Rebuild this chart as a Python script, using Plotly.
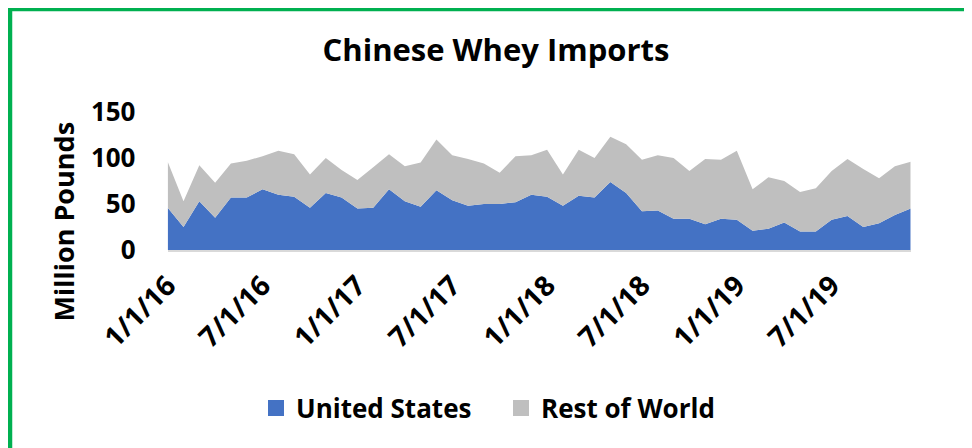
import plotly.graph_objects as go

# ---- data ----
months = [f"{m}/1/{y}" for y in (16, 17, 18, 19) for m in range(1, 13)]
united_states = [46, 25, 53, 35, 57, 57, 66, 60, 58, 46, 62, 57,
                 45, 46, 66, 53, 47, 65, 54, 48, 50, 50, 52, 60,
                 58, 48, 59, 57, 74, 62, 42, 43, 34, 34, 28, 34,
                 33, 21, 23, 30, 20, 20, 33, 37, 25, 29, 38, 45]
rest_of_world = [50, 28, 39, 38, 37, 40, 36, 48, 46, 36, 38, 30,
                 31, 44, 38, 38, 48, 55, 49, 51, 44, 34, 50, 43,
                 51, 34, 50, 43, 49, 53, 56, 60, 66, 52, 71, 64,
                 75, 45, 56, 45, 43, 47, 53, 62, 63, 49, 53, 51]
tick_labels = ["1/1/16", "7/1/16", "1/1/17", "7/1/17",
               "1/1/18", "7/1/18", "1/1/19", "7/1/19"]
y_ticks = [0, 50, 100, 150]

W, H = 972, 448
OFF = 8  # page body margin
FONT = "Open Sans"
US_COLOR = "#4472C4"
ROW_COLOR = "#BFBFBF"


def px(x):
    return (x - OFF) / W


def py(y):
    return 1 - (y - OFF) / H


fig = go.Figure()
fig.add_trace(go.Scatter(x=months, y=united_states, stackgroup="one",
                         mode="none", fillcolor=US_COLOR,
                         name="United States", showlegend=False))
fig.add_trace(go.Scatter(x=months, y=rest_of_world, stackgroup="one",
                         mode="none", fillcolor=ROW_COLOR,
                         name="Rest of World", showlegend=False))
# legend entries (square swatches)
for nm, col in (("United States", US_COLOR), ("Rest of World", ROW_COLOR)):
    fig.add_trace(go.Scatter(x=[None], y=[None], mode="markers", name=f"<b>{nm}</b>",
                             marker=dict(symbol="square", size=18, color=col)))

fig.update_layout(
    width=W, height=H,
    margin=dict(l=0, r=0, t=0, b=0, autoexpand=False),
    paper_bgcolor="white", plot_bgcolor="white",
    font=dict(family=FONT, color="black"),
    title=dict(text="<b>Chinese Whey Imports</b>", x=px(496), xanchor="center",
               y=py(50), yanchor="middle",
               font=dict(family=FONT, size=31, color="black")),
    xaxis=dict(type="category", domain=[px(167.7), px(910.7)],
               range=[0, len(months) - 1], automargin=False,
               tickmode="array", tickvals=tick_labels,
               ticktext=[f"<b>{t}</b>" for t in tick_labels],
               tickangle=-45, tickfont=dict(family=FONT, size=28, color="black"),
               showline=True, linecolor="#D9D9D9", linewidth=2,
               showgrid=False, zeroline=False, ticks="", ticklabelstandoff=6),
    yaxis=dict(domain=[py(250), py(112)], range=[0, 150], automargin=False,
               tickmode="array", tickvals=y_ticks,
               ticktext=[f"<b>{v}</b>" for v in y_ticks],
               tickfont=dict(family=FONT, size=26, color="black"),
               showgrid=False, zeroline=False, showline=False,
               ticks="outside", ticklen=26, tickcolor="rgba(0,0,0,0)"),
    annotations=[dict(text="<b>Million Pounds</b>", textangle=-90,
                      xref="paper", yref="paper", x=px(62.5), y=py(222),
                      xanchor="center", yanchor="middle", showarrow=False,
                      font=dict(family=FONT, size=27, color="black"))],
    legend=dict(orientation="h", x=px(256), xanchor="left",
                y=py(408), yanchor="middle", traceorder="normal",
                entrywidth=200, entrywidthmode="pixels",
                font=dict(family=FONT, size=26, color="black"),
                bgcolor="rgba(0,0,0,0)"),
    shapes=[dict(type="rect", xref="paper", yref="paper",
                 x0=px(10), x1=px(968.3), y0=-0.1, y1=py(9),
                 line=dict(color="#00B050", width=4.5), fillcolor="rgba(0,0,0,0)",
                 layer="above")],
)

fig.write_html("out.html")
